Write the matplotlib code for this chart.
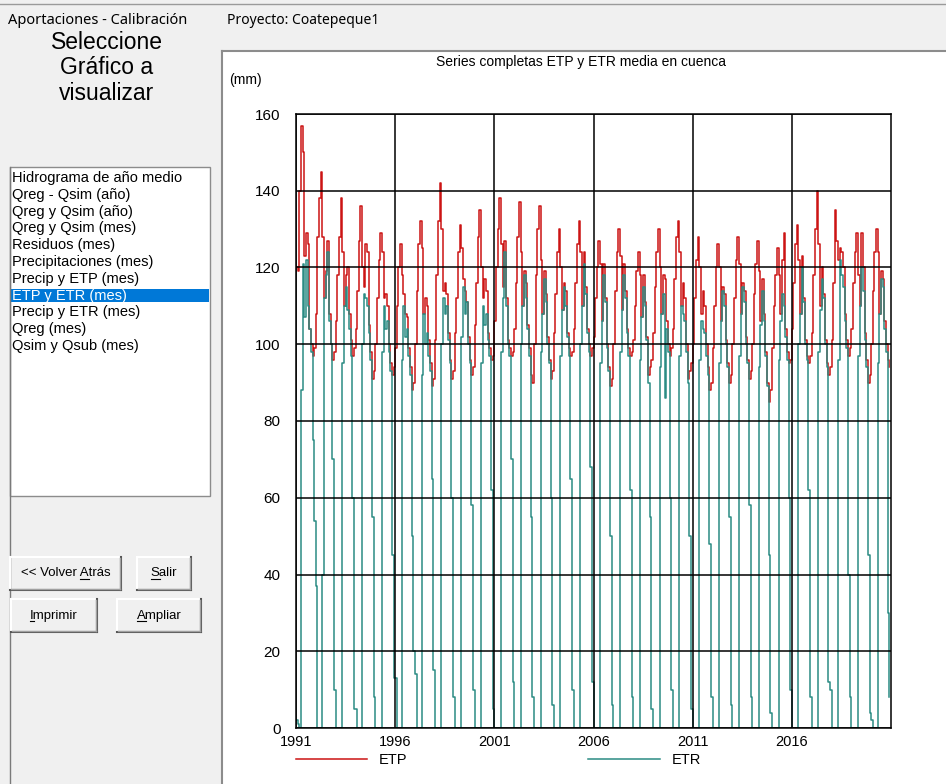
import matplotlib
matplotlib.use("Agg")
import matplotlib.pyplot as plt
from matplotlib.patches import Rectangle
import numpy as np

# ---- data: monthly ETP and ETR (mm), Jan..Dec, 1991-2020 ----
years = list(range(1991, 2021))

etp_rows = [
    [120, 119, 140, 157, 150, 123, 129, 126, 104, 100, 97, 99],
    [108, 128, 138, 145, 128, 112, 119, 127, 108, 100, 96, 98],
    [106, 118, 128, 138, 124, 110, 118, 120, 108, 101, 97, 99],
    [104, 114, 127, 136, 120, 115, 126, 124, 105, 98, 91, 93],
    [100, 112, 122, 129, 124, 112, 113, 110, 100, 95, 92, 94],
    [99, 110, 120, 126, 118, 113, 108, 107, 99, 94, 88, 90],
    [100, 114, 126, 132, 125, 108, 112, 110, 101, 95, 89, 91],
    [101, 118, 132, 142, 130, 114, 116, 113, 103, 96, 91, 93],
    [103, 112, 124, 131, 125, 117, 114, 111, 102, 96, 92, 94],
    [105, 116, 128, 135, 120, 112, 117, 114, 103, 99, 96, 97],
    [106, 120, 130, 138, 126, 115, 127, 112, 101, 99, 97, 98],
    [104, 116, 128, 137, 124, 110, 119, 116, 105, 99, 92, 90],
    [100, 118, 130, 136, 122, 108, 119, 113, 102, 96, 91, 93],
    [103, 113, 124, 130, 120, 109, 116, 114, 103, 99, 97, 98],
    [104, 116, 126, 132, 124, 110, 124, 115, 104, 100, 97, 99],
    [102, 112, 120, 127, 121, 106, 121, 112, 100, 94, 89, 91],
    [100, 114, 124, 130, 123, 109, 121, 114, 104, 99, 97, 98],
    [101, 110, 119, 124, 118, 107, 118, 111, 102, 92, 94, 96],
    [103, 115, 124, 130, 120, 108, 118, 117, 106, 100, 97, 99],
    [104, 117, 128, 132, 124, 110, 116, 112, 100, 91, 93, 95],
    [100, 112, 122, 128, 120, 108, 114, 110, 100, 94, 88, 90],
    [99, 110, 120, 126, 120, 106, 115, 113, 101, 95, 90, 92],
    [100, 112, 122, 128, 121, 108, 116, 114, 102, 96, 91, 93],
    [100, 113, 121, 127, 119, 106, 117, 108, 98, 90, 85, 88],
    [99, 110, 118, 125, 118, 108, 122, 129, 104, 98, 95, 96],
    [104, 116, 126, 131, 122, 108, 123, 112, 101, 97, 95, 97],
    [103, 118, 130, 140, 126, 110, 120, 113, 101, 95, 92, 94],
    [101, 116, 135, 127, 122, 125, 124, 120, 108, 101, 97, 99],
    [104, 116, 124, 129, 118, 110, 129, 120, 103, 96, 90, 92],
    [100, 114, 124, 130, 124, 108, 119, 117, 106, 100, 96, 94],
]

etr_rows = [
    [2, 1, 0, 88, 121, 107, 122, 110, 104, 98, 75, 54],
    [37, 0, 0, 0, 40, 112, 118, 124, 106, 100, 70, 10],
    [0, 0, 0, 0, 95, 110, 115, 109, 104, 97, 60, 5],
    [5, 0, 0, 0, 100, 113, 112, 110, 103, 96, 55, 8],
    [0, 0, 0, 0, 98, 110, 104, 106, 98, 93, 45, 13],
    [13, 0, 0, 0, 96, 110, 102, 104, 97, 92, 50, 20],
    [14, 0, 0, 0, 92, 108, 100, 103, 97, 93, 65, 15],
    [0, 0, 0, 0, 100, 112, 108, 110, 101, 95, 60, 8],
    [0, 0, 0, 0, 102, 115, 108, 111, 100, 95, 58, 10],
    [0, 0, 0, 0, 95, 110, 105, 108, 101, 97, 62, 5],
    [0, 0, 0, 0, 98, 112, 124, 110, 100, 97, 70, 12],
    [0, 0, 0, 0, 100, 110, 118, 112, 104, 97, 55, 8],
    [0, 0, 0, 0, 98, 108, 117, 111, 100, 95, 60, 6],
    [0, 0, 0, 0, 97, 109, 115, 110, 102, 97, 65, 10],
    [0, 0, 0, 0, 100, 110, 121, 113, 103, 98, 68, 12],
    [0, 0, 0, 0, 95, 106, 118, 111, 99, 93, 50, 6],
    [0, 0, 0, 0, 98, 109, 118, 112, 103, 97, 62, 8],
    [0, 0, 0, 0, 96, 107, 115, 110, 101, 90, 55, 5],
    [0, 0, 0, 0, 94, 108, 113, 86, 104, 98, 60, 10],
    [0, 0, 0, 0, 97, 110, 108, 106, 98, 90, 50, 5],
    [0, 0, 0, 0, 96, 106, 104, 103, 97, 92, 48, 8],
    [0, 0, 0, 0, 95, 106, 114, 110, 100, 94, 55, 6],
    [0, 0, 0, 0, 97, 108, 115, 111, 100, 95, 58, 8],
    [0, 0, 0, 0, 94, 105, 114, 106, 97, 89, 45, 4],
    [0, 0, 0, 0, 96, 106, 113, 110, 102, 96, 60, 10],
    [0, 0, 0, 0, 100, 108, 120, 111, 100, 96, 62, 8],
    [0, 0, 0, 0, 98, 109, 117, 112, 100, 94, 12, 10],
    [0, 0, 0, 0, 96, 122, 118, 115, 106, 99, 40, 8],
    [0, 0, 0, 0, 97, 110, 120, 114, 101, 94, 45, 4],
    [2, 0, 0, 0, 95, 108, 117, 115, 104, 98, 30, 8],
]

year_ticks = [1991, 1996, 2001, 2006, 2011, 2016]
mm_ticks = [0, 20, 40, 60, 80, 100, 120, 140, 160]

menu_items = [
    "Hidrograma de año medio", "Qreg - Qsim (año)", "Qreg y Qsim (año)",
    "Qreg y Qsim (mes)", "Residuos (mes)", "Precipitaciones (mes)",
    "Precip y ETP (mes)", "ETP y ETR (mes)", "Precip y ETR (mes)",
    "Qreg (mes)", "Qsim y Qsub (mes)",
]
selected = "ETP y ETR (mes)"

SANS = ["Liberation Sans", "DejaVu Sans"]
UI_FONT = ["Noto Sans", "DejaVu Sans"]
ETP_COLOR = "#cc1414"
ETR_COLOR = "#2b8c84"

W, H = 946, 784
fig = plt.figure(figsize=(W / 100, H / 100), dpi=100, facecolor="#f0f0f0")

# pixel-coordinate layer for the window chrome
ui = fig.add_axes([0, 0, 1, 1])
ui.set_xlim(0, W)
ui.set_ylim(H, 0)
ui.axis("off")

ui.plot([0, W], [4, 4], color="#9a9a9a", lw=1)
ui.text(8, 20, "Aportaciones - Calibración", fontsize=10.5, family=UI_FONT, va="center")
ui.text(227, 20, "Proyecto: Coatepeque1", fontsize=10, family=UI_FONT, va="center")

# chart panel
ui.add_patch(Rectangle((222, 51), W - 222, H - 51, facecolor="white", edgecolor="none"))
ui.plot([222, 222], [51, H], color="#8c8c8c", lw=1.5)
ui.plot([222, W], [51, 51], color="#8c8c8c", lw=1.5)

# left panel header
for i, line in enumerate(["Seleccione", "Gráfico a", "visualizar"]):
    ui.text(107, 42 + i * 25.5, line, fontsize=16.5, family=SANS,
            ha="center", va="center")

# list box
ui.plot([10, 10], [167, H], color="#7a7a7a", lw=1)
ui.add_patch(Rectangle((10, 167), 200, 329, facecolor="white", edgecolor="#8c8c8c", lw=1))
for i, item in enumerate(menu_items):
    yy = 178 + i * 16.8
    if item == selected:
        ui.add_patch(Rectangle((11, yy - 6.5), 198, 13, facecolor="#0078d7", edgecolor="none"))
        ui.text(12, yy, item, fontsize=10.5, family=SANS, va="center", color="white")
    else:
        ui.text(12, yy, item, fontsize=10.5, family=SANS, va="center", color="black")

# buttons
buttons = [
    ("<< Volver Atrás", 10, 557, 111, 33, 10),
    ("Salir", 137, 557, 54, 33, 0),
    ("Imprimir", 11, 599, 86, 33, 0),
    ("Ampliar", 117, 599, 84, 33, 0),
]
btn_texts = []
for label, bx, by, bw, bh, ul in buttons:
    ui.add_patch(Rectangle((bx, by), bw, bh, facecolor="#f0f0f0", edgecolor="none"))
    ui.plot([bx, bx + bw], [by, by], color="white", lw=1.5)
    ui.plot([bx, bx], [by, by + bh], color="white", lw=1.5)
    ui.plot([bx, bx + bw], [by + bh, by + bh], color="#555555", lw=1.5)
    ui.plot([bx + bw, bx + bw], [by, by + bh], color="#555555", lw=1.5)
    ui.plot([bx + 1, bx + bw - 1], [by + bh - 1.5, by + bh - 1.5], color="#a0a0a0", lw=1)
    ui.plot([bx + bw - 1.5, bx + bw - 1.5], [by + 1, by + bh - 1], color="#a0a0a0", lw=1)
    t = ui.text(bx + bw / 2, by + bh / 2, label, fontsize=9.5, family=SANS,
                ha="center", va="center")
    btn_texts.append((t, label, ul))

# chart title and unit
ui.text(581, 62, "Series completas ETP y ETR media en cuenca", fontsize=10, family=SANS,
        ha="center", va="center")
ui.text(229, 80, "(mm)", fontsize=10, family=SANS, va="center")

# ---- the chart ----
x_left, x_right, y_top, y_bot = 296, 891, 114, 728
ax = fig.add_axes([x_left / W, (H - y_bot) / H, (x_right - x_left) / W, (y_bot - y_top) / H])
ax.set_facecolor("white")

t_months = np.array([y + m / 12 for y in years for m in range(12)])
etp = np.array(etp_rows).ravel()
etr = np.array(etr_rows).ravel()

ln_etp, = ax.step(t_months, etp, where="post", color=ETP_COLOR, lw=1.1, label="ETP")
ln_etr, = ax.step(t_months, etr, where="post", color=ETR_COLOR, lw=1.1, label="ETR")

ax.set_xlim(1991, 2021)
ax.set_ylim(0, 160)
ax.set_xticks(year_ticks)
ax.set_yticks(mm_ticks)
ax.set_xticklabels([str(y) for y in year_ticks], fontsize=10.5, family=SANS)
ax.set_yticklabels([str(v) for v in mm_ticks], fontsize=11, family=SANS)
ax.tick_params(length=0)
ax.tick_params(axis="y", pad=11)
ax.tick_params(axis="x", pad=5)
ax.grid(True, color="black", lw=1.1)
ax.set_axisbelow(False)
for s in ax.spines.values():
    s.set_color("black")
    s.set_linewidth(1.1)

fig.legend(handles=[ln_etp, ln_etr], loc="upper left",
           bbox_to_anchor=(x_left / W, 1 - 753 / H), ncol=2, frameon=False,
           prop={"family": SANS, "size": 10.5}, handlelength=4.9,
           handletextpad=0.8, columnspacing=12.4, borderpad=0, borderaxespad=0)

# underline accelerator letters on the buttons
fig.canvas.draw()
inv = ui.transData.inverted()
renderer = fig.canvas.get_renderer()
for t, label, ul in btn_texts:
    bb = t.get_window_extent(renderer)
    pre = ui.text(0, 0, label[:ul] if ul else "", fontsize=9.5, family=SANS)
    let = ui.text(0, 0, label[ul], fontsize=9.5, family=SANS)
    w_pre = pre.get_window_extent(renderer).width if ul else 0
    w_let = let.get_window_extent(renderer).width
    pre.remove()
    let.remove()
    (x0, y0) = inv.transform((bb.x0 + w_pre, bb.y0 + 1))
    (x1, _) = inv.transform((bb.x0 + w_pre + w_let, bb.y0 + 1))
    ui.plot([x0, x1], [y0, y0], color="black", lw=0.8)

fig.savefig("out.png", dpi=100, facecolor=fig.get_facecolor())
